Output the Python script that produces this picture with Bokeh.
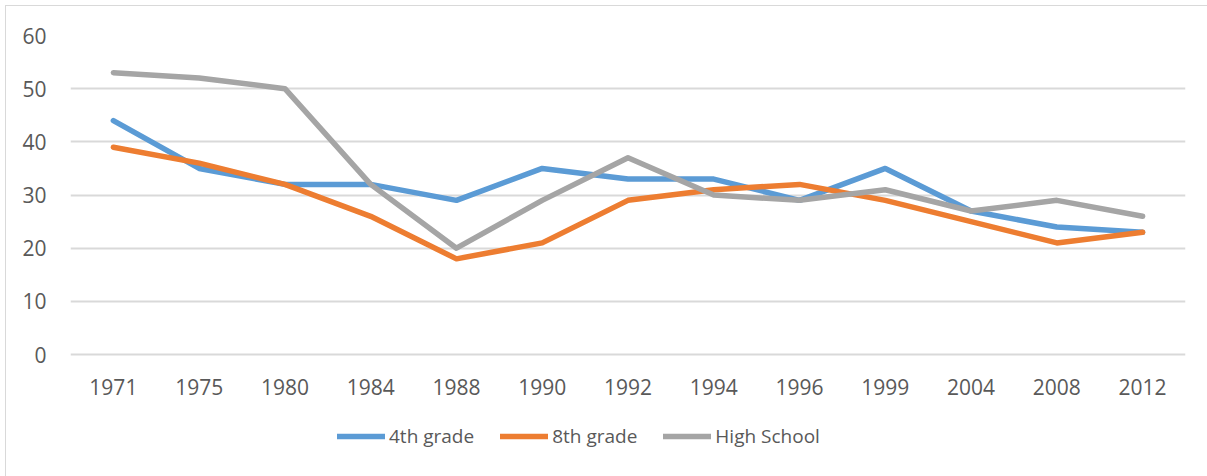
from bokeh.plotting import figure
from bokeh.models import FactorRange, Range1d, Legend, LegendItem, FixedTicker
from bokeh.embed import file_html
from bokeh.resources import INLINE

years = ["1971", "1975", "1980", "1984", "1988", "1990", "1992", "1994", "1996", "1999", "2004", "2008", "2012"]
grade4 = [44, 35, 32, 32, 29, 35, 33, 33, 29, 35, 27, 24, 23]
grade8 = [39, 36, 32, 26, 18, 21, 29, 31, 32, 29, 25, 21, 23]
high_school = [53, 52, 50, 32, 20, 29, 37, 30, 29, 31, 27, 29, 26]
y_ticks = [0, 10, 20, 30, 40, 50, 60]

FONT = "Open Sans"
TXT = "#595959"

p = figure(
    width=1207, height=476,
    x_range=FactorRange(*years, range_padding=0),
    y_range=Range1d(-21.8, 60),
    output_backend="svg", toolbar_location=None,
    min_border_left=70, min_border_right=22, min_border_top=35, min_border_bottom=6,
    background_fill_color="white", border_fill_alpha=0,
    styles={"background": "white",
            "box-shadow": "inset 5px 5px 0 0 white, inset 6px 6px 0 0 #d9d9d9"},
)
p.outline_line_color = None

r1 = p.line(years, grade4, line_color="#5B9BD5", line_width=5.5, line_join="round", line_cap="round")
r2 = p.line(years, grade8, line_color="#ED7D31", line_width=5.5, line_join="round", line_cap="round")
r3 = p.line(years, high_school, line_color="#A5A5A5", line_width=5.5, line_join="round", line_cap="round")

p.xgrid.grid_line_color = None
p.ygrid.grid_line_color = "#d9d9d9"
p.ygrid.grid_line_width = 2
p.yaxis.ticker = FixedTicker(ticks=y_ticks)
p.xaxis.fixed_location = 0

for ax in (p.xaxis, p.yaxis):
    ax.axis_line_color = None
    ax.major_tick_line_color = None
    ax.minor_tick_line_color = None
    ax.major_label_text_font = FONT
    ax.major_label_text_font_size = "21px"
    ax.major_label_text_color = TXT
p.xaxis.major_label_standoff = 18
p.yaxis.major_label_standoff = 18

legend = Legend(
    items=[LegendItem(label="4th grade", renderers=[r1]),
           LegendItem(label="8th grade", renderers=[r2]),
           LegendItem(label="High School", renderers=[r3])],
    orientation="horizontal",
    location=(267, 21),
    border_line_color=None, background_fill_alpha=0,
    padding=0, margin=0, spacing=26, label_standoff=4,
    glyph_width=48, glyph_height=20, label_height=20,
    label_text_font=FONT, label_text_font_size="19px", label_text_color=TXT,
)
p.add_layout(legend, "center")

open("out.html", "w").write(file_html(p, INLINE))
